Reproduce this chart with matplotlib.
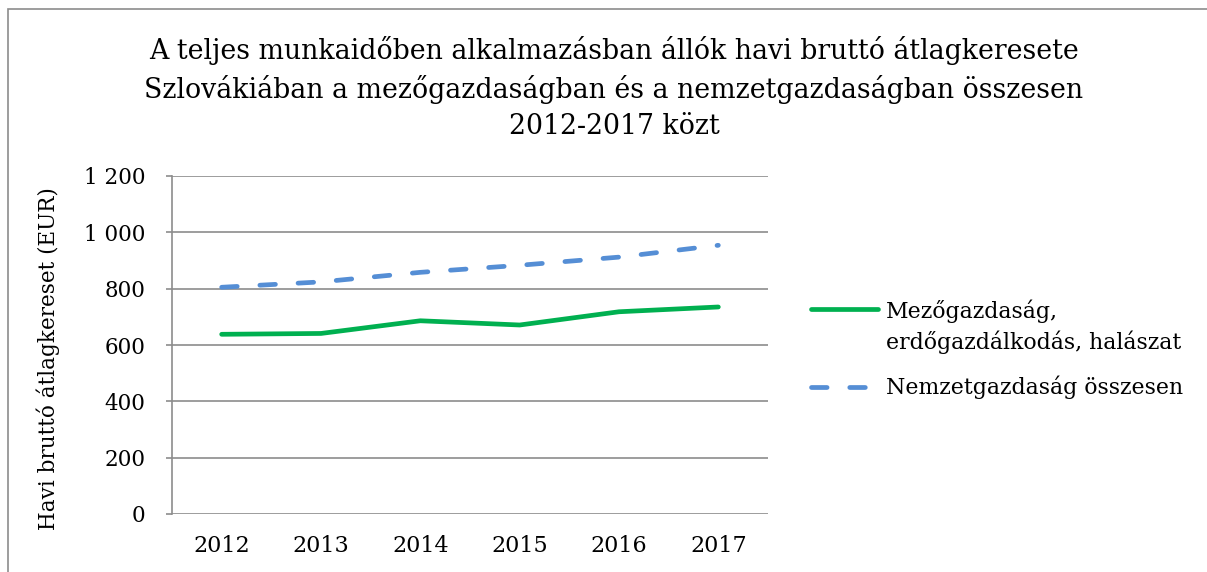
import matplotlib
matplotlib.use("Agg")
import matplotlib.pyplot as plt
from matplotlib.lines import Line2D
from matplotlib.patches import Rectangle
from matplotlib.ticker import FuncFormatter

years = ["2012", "2013", "2014", "2015", "2016", "2017"]
agri = [638, 641, 686, 671, 718, 735]
national = [805, 824, 858, 883, 912, 954]
series_labels = ["Mezőgazdaság,\nerdőgazdálkodás, halászat", "Nemzetgazdaság összesen"]
title = ("A teljes munkaidőben alkalmazásban állók havi bruttó átlagkeresete\n"
         "Szlovákiában a mezőgazdaságban és a nemzetgazdaságban összesen\n"
         "2012-2017 közt")
ylabel = "Havi bruttó átlagkereset (EUR)"
yticks = [0, 200, 400, 600, 800, 1000, 1200]

plt.rcParams['font.family'] = ['DejaVu Serif']
W, H = 1207, 572
fig = plt.figure(figsize=(W / 100, H / 100), dpi=100)

# outer chart border (cropped at right and bottom)
fig.add_artist(Rectangle((8 / W, -0.1), 1.2, 1 - 9 / H + 0.1, transform=fig.transFigure,
                         fill=False, edgecolor="#8c8c8c", linewidth=1.2))

ax = fig.add_axes([172 / W, 1 - 514 / H, (768 - 172) / W, (514 - 176) / H])
x = list(range(len(years)))
green = "#00B050"
blue = "#558ED5"
LW = 3.4
DASH = (3.3, 4.8)
ax.plot(x, agri, color=green, linewidth=LW, solid_capstyle="round", solid_joinstyle="round")
ax.plot(x, national, color=blue, linewidth=LW, dashes=DASH, dash_capstyle="round")

ax.set_xlim(-0.5, len(years) - 0.5)
ax.set_ylim(0, 1200)
ax.set_yticks(yticks)
ax.yaxis.set_major_formatter(FuncFormatter(lambda v, p: f"{int(v):,}".replace(",", " ")))
ax.set_xticks(x)
ax.set_xticklabels(years)
ax.grid(axis="y", color="#8c8c8c", linewidth=1.2)
ax.set_axisbelow(True)
for s in ["top", "right", "bottom"]:
    ax.spines[s].set_visible(False)
ax.spines["left"].set_color("#8c8c8c")
ax.spines["left"].set_linewidth(1.2)
ax.tick_params(axis="y", length=4, width=1.2, color="#8c8c8c", labelsize=15.5, pad=15)
ax.tick_params(axis="x", length=0, labelsize=16, pad=15)
ax.set_ylabel(ylabel, fontsize=15.5)
ax.yaxis.set_label_coords(-0.188, 0.459)

fig.text(614 / W, 1 - 88 / H, title, ha="center", va="center", fontsize=19.3, linespacing=1.42)

# legend
fig.add_artist(Line2D([811 / W, 878 / W], [1 - 309 / H] * 2, color=green, linewidth=LW,
                      solid_capstyle="round", transform=fig.transFigure))
fig.add_artist(Line2D([811 / W, 869 / W], [1 - 387 / H] * 2, color=blue, linewidth=LW,
                      dashes=DASH, dash_capstyle="round", transform=fig.transFigure))
fig.text(886 / W, 1 - 327 / H, series_labels[0], ha="left", va="center", fontsize=15.8, linespacing=1.4)
fig.text(886 / W, 1 - 387 / H, series_labels[1], ha="left", va="center", fontsize=15.8)

fig.savefig("out.png", dpi=100)
